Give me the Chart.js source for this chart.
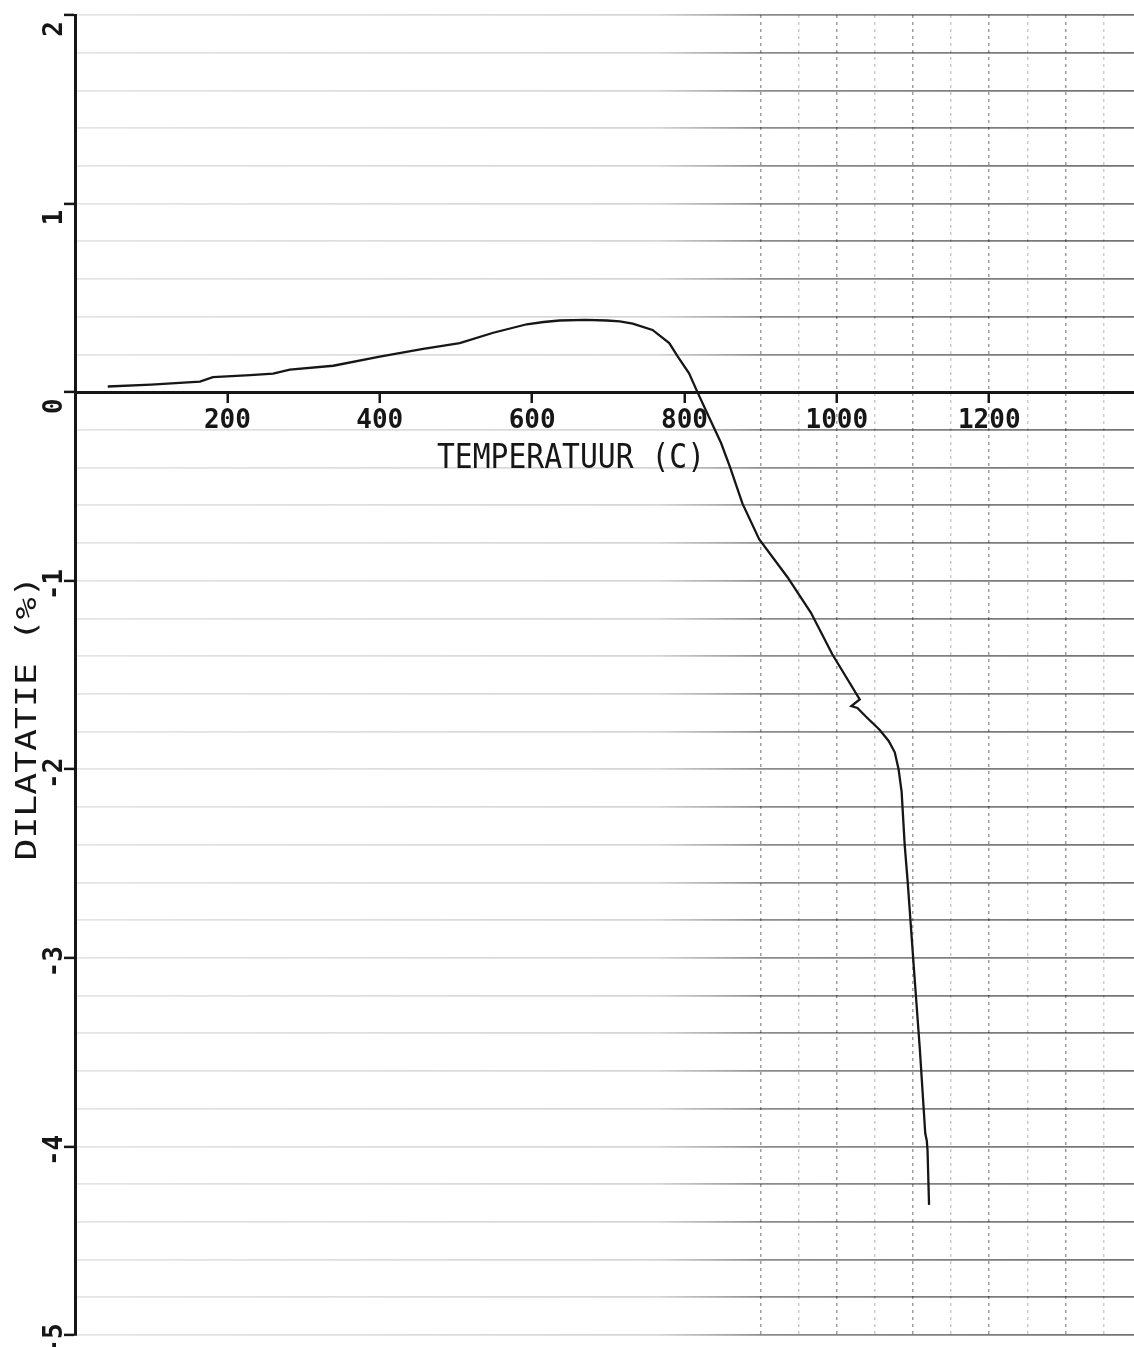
<!DOCTYPE html>
<html>
<head>
<meta charset="utf-8">
<script src="https://cdn.jsdelivr.net/npm/chart.js@4.4.0/dist/chart.umd.min.js"></script>
<style>
html,body{margin:0;padding:0;background:#fff;}
#wrap{width:1134px;height:1347px;position:relative;}
</style>
</head>
<body>
<div id="wrap"><canvas id="c"></canvas></div>
<script>
// dilatometer curve
const temps = [43, 100, 164, 181, 230, 260, 282, 339, 400, 457, 505, 549, 593, 615, 636, 670, 698, 715, 732, 758, 780, 791, 806, 817, 833, 848, 860, 876, 898, 935, 966, 994, 1030, 1019, 1027, 1038, 1056, 1068, 1076, 1081, 1085, 1089, 1093, 1101, 1109, 1116, 1118, 1119, 1121];
const dilatatie = [0.03, 0.04, 0.056, 0.08, 0.09, 0.098, 0.12, 0.14, 0.188, 0.23, 0.26, 0.315, 0.36, 0.372, 0.38, 0.383, 0.38, 0.375, 0.363, 0.33, 0.26, 0.19, 0.10, 0.0, -0.14, -0.27, -0.40, -0.59, -0.78, -0.98, -1.17, -1.39, -1.63, -1.665, -1.675, -1.72, -1.79, -1.85, -1.91, -2.0, -2.12, -2.40, -2.60, -3.05, -3.49, -3.93, -3.97, -4.02, -4.31];
const xTickLabels = [200, 400, 600, 800, 1000, 1200];
const yTickLabels = [2, 1, 0, -1, -2, -3, -4, -5];
const xTitle = 'TEMPERATUUR (C)';
const yTitle = 'DILATATIE (%)';

const MONO = '"DejaVu Sans Mono", "Liberation Mono", monospace';
const INK = '#161616';

function drawText(ctx, txt, x, y, font, width, rot){
  ctx.save();
  ctx.font = font; ctx.fillStyle = INK;
  ctx.translate(x, y); ctx.rotate(rot || 0);
  if(width){ const w = ctx.measureText(txt).width; ctx.scale(width / w, 1); }
  ctx.textAlign = 'center'; ctx.textBaseline = 'middle';
  ctx.fillText(txt, 0, 0);
  ctx.restore();
}

// rotated y labels and the two axis titles sit next to the axes, not at the edges
const plotterText = {
  id: 'plotterText',
  afterDraw(chart){
    const ctx = chart.ctx, ys = chart.scales.y;
    yTickLabels.forEach(v=>{
      const py = ys.getPixelForValue(v) + (v >= 0 ? 14 : 4);
      drawText(ctx, String(v), 55, py, 'bold 26px ' + MONO, 0, -Math.PI/2);
    });
    const y0 = ys.getPixelForValue(0);
    drawText(ctx, xTitle, 571, y0 + 67, '34px ' + MONO, 268);
    drawText(ctx, yTitle, 29, 718, '28px ' + MONO, 285, -Math.PI/2);
  }
};

function hGridColor(c){
  const v = c.tick ? c.tick.value : null;
  if(v === 0) return 'transparent';
  const a = c.chart.chartArea;
  if(!a) return 'rgba(0,0,0,0.2)';
  const g = c.chart.ctx.createLinearGradient(a.left, 0, a.right, 0);
  g.addColorStop(0, 'rgba(0,0,0,0.10)');
  g.addColorStop(0.55, 'rgba(0,0,0,0.16)');
  g.addColorStop(0.65, 'rgba(0,0,0,0.45)');
  g.addColorStop(1, 'rgba(0,0,0,0.55)');
  return g;
}

function isWhole(v){ return Math.abs(v - Math.round(v)) < 1e-6; }

const points = temps.map((t,i)=>({x:t, y:dilatatie[i]}));

new Chart(document.getElementById('c'), {
  type: 'scatter',
  data: { datasets: [{
    data: points, showLine: true, borderColor: INK, borderWidth: 2.3,
    pointRadius: 0, tension: 0, fill: false
  }]},
  options: {
    responsive: true, maintainAspectRatio: false, animation: false,
    layout: { padding: { left: 75, top: 15, right: 0, bottom: 12 } },
    plugins: { legend: {display:false}, tooltip: {enabled:false} },
    scales: {
      x: {
        type: 'linear', min: 0, max: 1390, position: { y: 0 },
        border: { display: true, color: INK, width: 3, dash: [3, 4] },
        grid: {
          color: c => { const v = c.tick ? c.tick.value : 0; if(v < 900) return 'transparent'; return v % 100 === 0 ? 'rgba(0,0,0,0.38)' : 'rgba(0,0,0,0.2)'; },
          lineWidth: 1.5, drawTicks: true, tickLength: 9, tickWidth: 2.5,
          tickColor: c => (c.tick && xTickLabels.includes(c.tick.value)) ? INK : 'transparent'
        },
        ticks: {
          stepSize: 50, includeBounds: false, autoSkip: false, maxRotation: 0, minRotation: 0,
          padding: 5, color: INK, font: { family: MONO, size: 26, weight: 'bold' },
          callback: v => xTickLabels.includes(v) ? String(v) : ''
        }
      },
      y: {
        type: 'linear', min: -5, max: 2, position: { x: 0 },
        border: { display: true, color: INK, width: 3 },
        grid: {
          color: hGridColor, lineWidth: 1.8, drawTicks: true, tickLength: 10, tickWidth: 2.5,
          tickColor: c => (c.tick && isWhole(c.tick.value) && yTickLabels.includes(Math.round(c.tick.value))) ? INK : 'transparent'
        },
        ticks: { stepSize: 0.2, includeBounds: false, display: false }
      }
    }
  },
  plugins: [plotterText]
});
</script>
</body>
</html>
